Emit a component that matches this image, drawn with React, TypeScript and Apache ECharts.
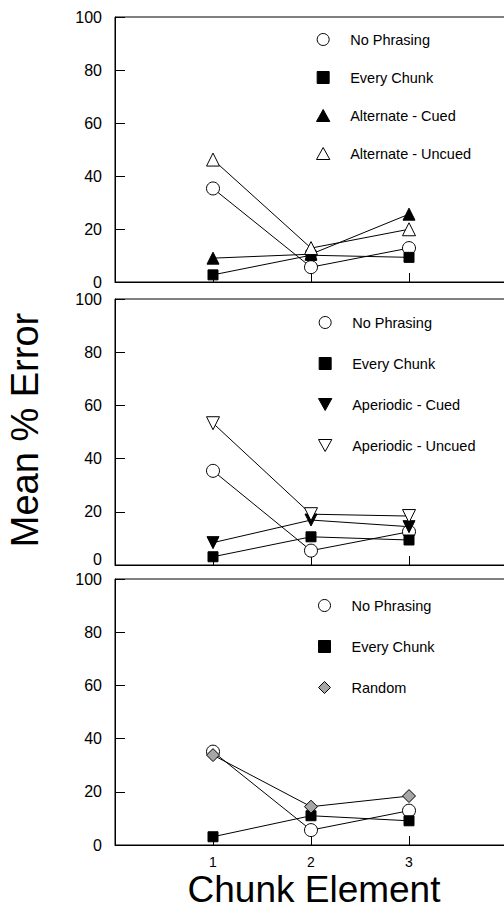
import React, { useEffect, useRef } from 'react';
import * as echarts from 'echarts';

const xCategories = [1, 2, 3];
const xTickLabels = ['1', '2', '3'];

// Panel 1: Alternate
const p1NoPhrasing = [35.3, 5.6, 12.8];
const p1EveryChunk = [2.7, 10.1, 9.3];
const p1AltCued = [9.0, 10.5, 25.6];
const p1AltUncued = [46.2, 12.8, 19.9];

// Panel 2: Aperiodic
const p2NoPhrasing = [35.4, 5.4, 12.5];
const p2EveryChunk = [3.1, 10.6, 9.4];
const p2ApCued = [8.4, 16.9, 14.4];
const p2ApUncued = [53.3, 19.1, 18.4];

// Panel 3: Random
const p3NoPhrasing = [35.1, 5.6, 12.9];
const p3EveryChunk = [3.1, 11.0, 9.1];
const p3Random = [33.8, 14.4, 18.4];

const FONT = '"Liberation Sans", Arial, Helvetica, sans-serif';

const SQUARE = 'path://M0,0H10V10H0Z';
const TRI_UP = 'path://M5,0L10,9L0,9Z';
const TRI_DOWN = 'path://M0,0H10L5,9Z';
const DIAMOND = 'path://M5,0L10,5L5,10L0,5Z';

const MARK: Record<string, { symbol: string; size: number; fill: string }> = {
  circle: { symbol: 'circle', size: 13, fill: '#ffffff' },
  square: { symbol: SQUARE, size: 10, fill: '#000000' },
  triUpFilled: { symbol: TRI_UP, size: 12, fill: '#000000' },
  triUpOpen: { symbol: TRI_UP, size: 13, fill: '#ffffff' },
  triDownFilled: { symbol: TRI_DOWN, size: 12, fill: '#000000' },
  triDownOpen: { symbol: TRI_DOWN, size: 13, fill: '#ffffff' },
  diamond: { symbol: DIAMOND, size: 13, fill: '#a6a6a6' },
};

function mkSeries(name: string, values: number[], idx: number, mark: string) {
  const m = MARK[mark];
  return {
    type: 'line',
    name,
    xAxisIndex: idx,
    yAxisIndex: idx,
    data: xCategories.map((x, i) => [x, values[i]]),
    symbol: m.symbol,
    symbolSize: m.size,
    showSymbol: true,
    silent: true,
    lineStyle: { color: '#000', width: 1 },
    itemStyle: { color: m.fill, borderColor: '#000', borderWidth: 1, opacity: 1 },
    emphasis: { disabled: true },
  };
}

function legendItem(name: string, mark: string) {
  const m = MARK[mark];
  return {
    name,
    icon: m.symbol,
    itemStyle: { color: m.fill, borderColor: '#000', borderWidth: 1 },
  };
}

const grids = [
  { top: 17, height: 265 },
  { top: 299, height: 266 },
  { top: 579, height: 266 },
];

const legendBase = {
  orient: 'vertical',
  padding: 0,
  itemWidth: 44,
  itemHeight: 12,
  selectedMode: false,
  symbolKeepAspect: true,
  textStyle: { fontSize: 14.5, color: '#000', fontFamily: FONT, lineHeight: 14 },
};

export default function App() {
  const ref = useRef<HTMLDivElement>(null);
  useEffect(() => {
    if (!ref.current) return;
    const chart = echarts.init(ref.current, null, { renderer: 'svg' });
    const option: any = {
      animation: false,
      grid: grids.map((g) => ({
        left: 115,
        width: 392,
        top: g.top,
        height: g.height,
        show: true,
        outerBoundsMode: 'none',
        containLabel: false,
        borderColor: '#000',
        borderWidth: 1,
        backgroundColor: 'transparent',
      })),
      xAxis: grids.map((_, i) => ({
        type: 'value',
        gridIndex: i,
        min: 0,
        max: 4,
        interval: 1,
        axisLine: { show: true, onZero: false, lineStyle: { color: '#000', width: 1 } },
        axisTick: { show: true, inside: true, length: 9, lineStyle: { color: '#000' } },
        axisLabel: {
          show: i === 2,
          margin: 10,
          fontSize: 14,
          color: '#000',
          fontFamily: FONT,
          formatter: (v: number) => {
            const k = xCategories.indexOf(v);
            return k >= 0 ? xTickLabels[k] : '';
          },
        },
        splitLine: { show: false },
      })),
      yAxis: grids.map((_, i) => ({
        type: 'value',
        gridIndex: i,
        min: 0,
        max: 100,
        interval: 20,
        axisLine: { show: true, lineStyle: { color: '#000', width: 1 } },
        axisTick: { show: true, inside: true, length: 10, lineStyle: { color: '#000' } },
        axisLabel: {
          margin: 13,
          fontSize: 16,
          lineHeight: 12,
          color: '#000',
          fontFamily: FONT,
          verticalAlignMinLabel: i === 1 ? 'bottom' : undefined,
        },
        splitLine: { show: false },
      })),
      legend: [
        {
          ...legendBase,
          left: 316,
          top: 32,
          itemGap: 23,
          data: [
            legendItem('No Phrasing', 'circle'),
            legendItem('Every Chunk', 'square'),
            legendItem('Alternate - Cued', 'triUpFilled'),
            legendItem('Alternate - Uncued', 'triUpOpen'),
          ],
        },
        {
          ...legendBase,
          left: 318,
          top: 315,
          itemGap: 26,
          data: [
            legendItem('No Phrasing', 'circle'),
            legendItem('Every Chunk', 'square'),
            legendItem('Aperiodic - Cued', 'triDownFilled'),
            legendItem('Aperiodic - Uncued', 'triDownOpen'),
          ],
        },
        {
          ...legendBase,
          left: 318,
          top: 598,
          itemGap: 26,
          data: [
            legendItem('No Phrasing', 'circle'),
            legendItem('Every Chunk', 'square'),
            legendItem('Random', 'diamond'),
          ],
        },
      ],
      graphic: [
        {
          type: 'text',
          x: 25,
          y: 430,
          rotation: Math.PI / 2,
          style: {
            text: 'Mean % Error',
            fontSize: 38,
            fontFamily: FONT,
            fill: '#000',
            textAlign: 'center',
            textVerticalAlign: 'middle',
          },
        },
        {
          type: 'text',
          x: 314,
          y: 889,
          style: {
            text: 'Chunk Element',
            fontSize: 37,
            fontFamily: FONT,
            fill: '#000',
            textAlign: 'center',
            textVerticalAlign: 'middle',
          },
        },
      ],
      series: [
        mkSeries('No Phrasing', p1NoPhrasing, 0, 'circle'),
        mkSeries('Every Chunk', p1EveryChunk, 0, 'square'),
        mkSeries('Alternate - Cued', p1AltCued, 0, 'triUpFilled'),
        mkSeries('Alternate - Uncued', p1AltUncued, 0, 'triUpOpen'),
        mkSeries('No Phrasing', p2NoPhrasing, 1, 'circle'),
        mkSeries('Every Chunk', p2EveryChunk, 1, 'square'),
        mkSeries('Aperiodic - Cued', p2ApCued, 1, 'triDownFilled'),
        mkSeries('Aperiodic - Uncued', p2ApUncued, 1, 'triDownOpen'),
        mkSeries('No Phrasing', p3NoPhrasing, 2, 'circle'),
        mkSeries('Every Chunk', p3EveryChunk, 2, 'square'),
        mkSeries('Random', p3Random, 2, 'diamond'),
      ],
    };
    chart.setOption(option);
    return () => chart.dispose();
  }, []);
  return (
    <div
      ref={ref}
      style={{ position: 'absolute', left: 0, top: 0, width: 504, height: 922, background: '#fff' }}
    />
  );
}
